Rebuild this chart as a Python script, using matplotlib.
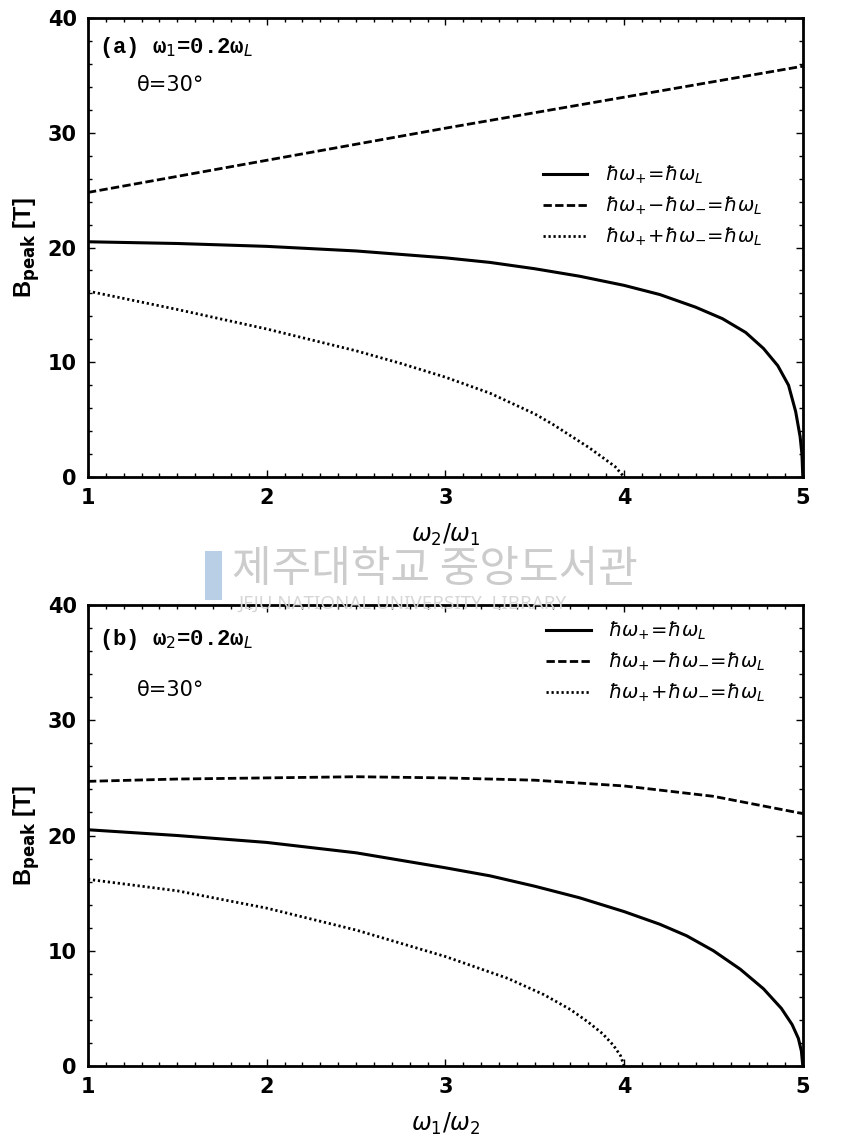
import matplotlib.pyplot as plt
from matplotlib.ticker import MultipleLocator
from matplotlib.patches import Rectangle

plt.rcParams['mathtext.fontset'] = 'dejavusans'

# Panel (a): B_peak vs w2/w1
a_dash_x = [1, 2, 3, 4, 5]
a_dash_y = [24.8, 27.6, 30.4, 33.1, 35.8]
a_solid_x = [1, 1.5, 2, 2.5, 3, 3.25, 3.5, 3.75, 4, 4.2, 4.4, 4.55, 4.68, 4.78, 4.86, 4.92, 4.96, 4.985, 4.995, 5.0]
a_solid_y = [20.5, 20.35, 20.1, 19.7, 19.1, 18.7, 18.15, 17.5, 16.7, 15.9, 14.8, 13.8, 12.6, 11.2, 9.7, 8.0, 5.7, 3.5, 2.0, 0.0]
a_dot_x = [1, 1.5, 2, 2.5, 2.75, 3, 3.25, 3.5, 3.6, 3.7, 3.8, 3.88, 3.95, 4.0]
a_dot_y = [16.2, 14.6, 12.9, 11.0, 9.9, 8.7, 7.3, 5.5, 4.6, 3.6, 2.6, 1.7, 0.9, 0.0]

# Panel (b): B_peak vs w1/w2
b_dash_x = [1, 1.5, 2, 2.5, 3, 3.5, 4, 4.5, 5]
b_dash_y = [24.7, 24.9, 25.0, 25.1, 25.0, 24.8, 24.3, 23.4, 21.9]
b_solid_x = [1, 1.5, 2, 2.5, 3, 3.25, 3.5, 3.75, 4, 4.2, 4.35, 4.5, 4.65, 4.78, 4.88, 4.94, 4.975, 4.992, 5.0]
b_solid_y = [20.5, 20.0, 19.4, 18.5, 17.2, 16.5, 15.6, 14.6, 13.4, 12.3, 11.3, 10.0, 8.4, 6.7, 5.0, 3.6, 2.4, 1.3, 0.0]
b_dot_x = [1, 1.5, 2, 2.5, 3, 3.35, 3.55, 3.7, 3.8, 3.88, 3.94, 3.98, 4.0]
b_dot_y = [16.2, 15.2, 13.7, 11.8, 9.5, 7.6, 6.2, 4.9, 3.8, 2.8, 1.8, 0.9, 0.0]

labels = [r'$\hbar\omega_{+}\!=\!\hbar\omega_{L}$',
          r'$\hbar\omega_{+}\!-\!\hbar\omega_{-}\!=\!\hbar\omega_{L}$',
          r'$\hbar\omega_{+}\!+\!\hbar\omega_{-}\!=\!\hbar\omega_{L}$']

fig = plt.figure(figsize=(8.41, 11.48), dpi=100)
ax1 = fig.add_axes([0.1046, 0.5845, 0.850, 0.3998])
ax2 = fig.add_axes([0.1046, 0.0714, 0.850, 0.4016])

panels = [
    (ax1, a_solid_x, a_solid_y, a_dash_x, a_dash_y, a_dot_x, a_dot_y,
     r'$\omega_2/\omega_1$', '(a) ω$_1$=0.2ω$_L$', (0.015, 0.935), (0.068, 0.855), (0.625, 0.70)),
    (ax2, b_solid_x, b_solid_y, b_dash_x, b_dash_y, b_dot_x, b_dot_y,
     r'$\omega_1/\omega_2$', '(b) ω$_2$=0.2ω$_L$', (0.015, 0.925), (0.068, 0.815), (0.63, 0.985)),
]

for ax, sx, sy, dx, dy, px, py, xlab, title, tpos, thpos, lpos in panels:
    ax.plot(sx, sy, color='black', lw=2.2, ls='-', label=labels[0])
    ax.plot(dx, dy, color='black', lw=2.0, ls=(0, (3, 1.2)), label=labels[1])
    ax.plot(px, py, color='black', lw=2.0, ls=(0, (0.8, 1.0)), label=labels[2])
    ax.set_xlim(1, 5)
    ax.set_ylim(0, 40)
    ax.xaxis.set_major_locator(MultipleLocator(1))
    ax.xaxis.set_minor_locator(MultipleLocator(0.1))
    ax.yaxis.set_major_locator(MultipleLocator(10))
    ax.yaxis.set_minor_locator(MultipleLocator(2))
    ax.tick_params(which='both', direction='in', top=True, right=True, width=1)
    ax.tick_params(which='major', length=5, pad=8, labelsize=15)
    ax.tick_params(which='minor', length=3)
    for lbl in ax.get_xticklabels() + ax.get_yticklabels():
        lbl.set_fontweight('bold')
    for sp in ax.spines.values():
        sp.set_linewidth(2)
    ax.set_xlabel(xlab, fontsize=17, labelpad=10)
    ax.set_ylabel(r'B$_{\mathbf{peak}}$ [T]', fontsize=17, fontweight='bold',
                  family='Liberation Sans', labelpad=4)
    ax.text(tpos[0], tpos[1], title, transform=ax.transAxes, fontsize=16,
            family='Liberation Mono', fontweight='bold', va='center')
    ax.text(thpos[0], thpos[1], 'θ=30°', transform=ax.transAxes, fontsize=15,
            family='DejaVu Sans', va='center')
    ax.legend(loc='upper left', bbox_to_anchor=lpos, frameon=False,
              fontsize=14, handlelength=2.3, labelspacing=0.45,
              handletextpad=0.9, borderaxespad=0)

# library watermark
fig.text(0.517, 0.5035, '제주대학교 중앙도서관', fontsize=31, color='#cccccc',
         family=['Noto Sans CJK KR', 'DejaVu Sans'], ha='center', va='center', zorder=0)
fig.text(0.283, 0.4745, 'JEJU NATIONAL UNIVERSITY  LIBRARY', fontsize=13.5, color='#d6d6d6',
         family='Noto Sans', ha='left', va='center', zorder=0)
fig.patches.append(Rectangle((0.244, 0.477), 0.02, 0.043, transform=fig.transFigure,
                             facecolor='#b9cfe6', edgecolor='none', zorder=0))

fig.savefig('out.png', dpi=100)
